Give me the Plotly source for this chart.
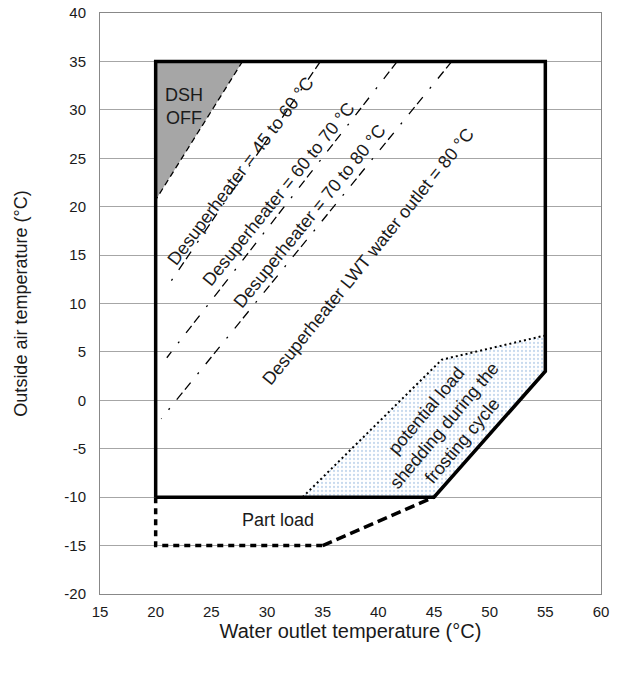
import plotly.graph_objects as go

# ---- data ----
x_ticks = [15, 20, 25, 30, 35, 40, 45, 50, 55, 60]
x_tick_labels = ["15", "20", "25", "30", "35", "40", "45", "50", "55", "60"]
y_ticks = [-20, -15, -10, -5, 0, 5, 10, 15, 20, 25, 30, 35, 40]
y_tick_labels = ["-20", "-15", "-10", "-5", "0", "5", "10", "15", "20", "25", "30", "35", "40"]

envelope_x = [20, 20, 55, 55, 45, 20]
envelope_y = [-10, 35, 35, 3, -10, -10]

part_load_dot_x = [20, 20, 35]
part_load_dot_y = [-10, -15, -15]
part_load_dash_x = [35, 45]
part_load_dash_y = [-15, -10]

dsh_off_x = [20, 20, 27.8]
dsh_off_y = [20.7, 35, 35]
dsh_edge_x = [27.8, 20]
dsh_edge_y = [35, 20.7]

dsh1_x = [34.8, 20.9]
dsh1_y = [35, 11.5]
dsh2_x = [41.7, 21.0]
dsh2_y = [35, 4.4]
dsh3_x = [46.6, 20.5]
dsh3_y = [35, -1.9]

frost_x = [33.2, 45.7, 55, 55, 45, 33.2]
frost_y = [-10, 4.2, 6.7, 3, -10, -10]
frost_edge_x = [33.2, 45.7, 55]
frost_edge_y = [-10, 4.2, 6.7]

FONT = "Liberation Sans, Arial, sans-serif"
TXT = "#1a1a1a"

fig = go.Figure()

# frost shedding region
fig.add_trace(go.Scatter(
    x=frost_x, y=frost_y, mode="lines", fill="toself",
    fillcolor="rgba(255,255,255,0)",
    fillpattern=dict(shape=".", fgcolor="#8fb3dd", bgcolor="white", size=4, solidity=0.25),
    line=dict(width=0), hoverinfo="skip", showlegend=False))
# DSH OFF grey area
fig.add_trace(go.Scatter(
    x=dsh_off_x, y=dsh_off_y, mode="lines", fill="toself", fillcolor="#a6a6a6",
    line=dict(width=0), hoverinfo="skip", showlegend=False))
fig.add_trace(go.Scatter(
    x=dsh_edge_x, y=dsh_edge_y, mode="lines",
    line=dict(color="black", width=1.3, dash="6px,4px"), hoverinfo="skip", showlegend=False))

dashdot = "9px,4px,9px,11px,2px,11px"
for xs, ys in [(dsh1_x, dsh1_y), (dsh2_x, dsh2_y), (dsh3_x, dsh3_y)]:
    fig.add_trace(go.Scatter(
        x=xs, y=ys, mode="lines",
        line=dict(color="black", width=1.3, dash=dashdot), hoverinfo="skip", showlegend=False))

fig.add_trace(go.Scatter(
    x=frost_edge_x, y=frost_edge_y, mode="lines",
    line=dict(color="black", width=2, dash="2px,3px"), hoverinfo="skip", showlegend=False))

# operating envelope
fig.add_trace(go.Scatter(
    x=envelope_x, y=envelope_y, mode="lines",
    line=dict(color="black", width=3.5), hoverinfo="skip", showlegend=False))

# part load
fig.add_trace(go.Scatter(
    x=part_load_dot_x, y=part_load_dot_y, mode="lines",
    line=dict(color="black", width=3.5, dash="6px,5px"), hoverinfo="skip", showlegend=False))
fig.add_trace(go.Scatter(
    x=part_load_dash_x, y=part_load_dash_y, mode="lines",
    line=dict(color="black", width=3.5, dash="10px,5px"), hoverinfo="skip", showlegend=False))

ann_font = dict(family=FONT, size=18, color=TXT)
annotations = [
    dict(x=22.5, y=30.3, text="DSH<br>OFF", textangle=0),
    dict(x=27.66, y=23.65, text="Desuperheater = 45 to 60 °C", textangle=-53),
    dict(x=31.08, y=21.28, text="Desuperheater = 60 to 70 °C", textangle=-51),
    dict(x=33.87, y=19.0, text="Desuperheater = 70 to 80 °C", textangle=-51),
    dict(x=39.04, y=14.83, text="Desuperheater LWT water outlet = 80 °C", textangle=-51),
    dict(x=45.94, y=-2.57, text="potential load<br>shedding during the<br>frosting cycle", textangle=-50),
    dict(x=31.0, y=-12.37, text="Part load", textangle=0),
]
for a in annotations:
    fig.add_annotation(x=a["x"], y=a["y"], text=a["text"], textangle=a["textangle"],
                       showarrow=False, font=ann_font, xref="x", yref="y",
                       xanchor="center", yanchor="middle")

fig.update_layout(
    width=621, height=674,
    margin=dict(l=100, r=20.4, t=12.6, b=80),
    paper_bgcolor="white", plot_bgcolor="white",
    font=dict(family=FONT, color=TXT),
    showlegend=False,
    xaxis=dict(range=[15, 60], tickvals=x_ticks, ticktext=x_tick_labels, showgrid=False, zeroline=False,
               ticks="", tickfont=dict(size=15, color=TXT), ticklabelstandoff=4, automargin=False,
               ticklabeloverflow="allow",
               showline=True, linecolor="#888888", linewidth=1, mirror=True,
               title=dict(text="Water outlet temperature (°C)", font=dict(size=20, color=TXT), standoff=3)),
    yaxis=dict(range=[-20, 40], tickvals=y_ticks, ticktext=y_tick_labels, showgrid=True,
               gridcolor="#a6a6a6", gridwidth=1, automargin=False, ticklabeloverflow="allow",
               zeroline=False, ticks="", tickfont=dict(size=15, color=TXT), ticklabelstandoff=10,
               showline=True, linecolor="#888888", linewidth=1, mirror=True,
               title=dict(text="Outside air temperature (°C)", font=dict(size=18, color=TXT), standoff=32)),
)

fig.write_html("out.html", config={"displayModeBar": False},
               post_script="document.body.style.margin='0';")
